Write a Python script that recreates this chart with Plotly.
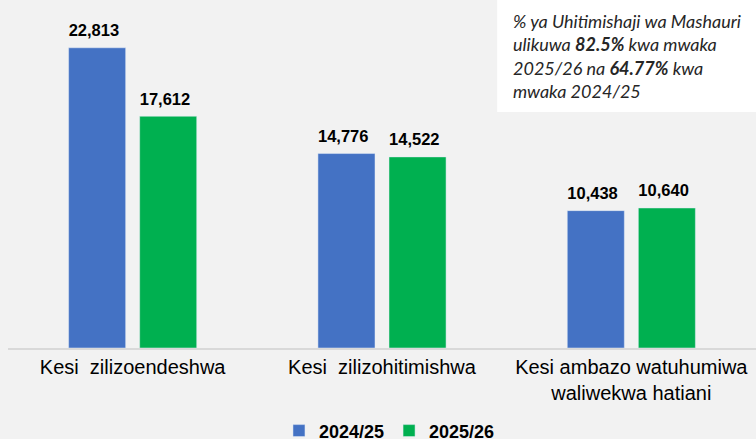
import plotly.graph_objects as go

categories = ["Kesi  zilizoendeshwa", "Kesi  zilizohitimishwa", "Kesi ambazo watuhumiwa<br>waliwekwa hatiani"]
series_names = ["2024/25", "2025/26"]
values_2024 = [22813, 14776, 10438]
values_2025 = [17612, 14522, 10640]
colors = ["#4472C4", "#00B050"]

note_text = ("% ya Uhitimishaji wa Mashauri<br>ulikuwa <b>82.5%</b> kwa mwaka<br>"
             "2025/26 na <b>64.77%</b> kwa<br>mwaka 2024/25")

fig = go.Figure()
for name, vals, col in zip(series_names, [values_2024, values_2025], colors):
    fig.add_trace(go.Bar(
        x=categories, y=vals, name="<b>" + name + "</b>", marker_color=col,
        texttemplate="<b>%{y:,}</b><sub><span style='font-size:27px'>&nbsp;</span></sub>",
        textposition="outside", cliponaxis=False,
        textfont=dict(family="Liberation Sans, Arial", size=19, color="#000000"),
    ))

fig.update_layout(
    width=756, height=439,
    margin=dict(l=8, r=0, t=19, b=91, autoexpand=False),
    paper_bgcolor="#F2F2F2", plot_bgcolor="#F2F2F2",
    barmode="group", bargap=0.43, bargroupgap=0.197,
    showlegend=True,
    legend=dict(orientation="h", x=0.51, xanchor="center", y=-0.252, yanchor="middle",
                font=dict(family="Liberation Sans, Arial", size=18, color="#000000"),
                bgcolor="rgba(0,0,0,0)", itemwidth=30, traceorder="normal"),
    xaxis=dict(showline=True, linecolor="#D9D9D9", linewidth=2, ticks="", automargin=False,
               tickfont=dict(family="Liberation Sans, Arial", size=20, color="#000000")),
    yaxis=dict(range=[0, 25000], visible=False, showgrid=False, automargin=False),
    shapes=[dict(type="rect", xref="paper", yref="paper", x0=0.654, x1=1.0, y0=0.717, y1=1.06,
                 fillcolor="#FFFFFF", line=dict(width=0), layer="below")],
    annotations=[dict(text=note_text, xref="paper", yref="paper", x=0.673, y=1.032,
                      xanchor="left", yanchor="top", align="left", showarrow=False,
                      font=dict(family="Lato", size=18, color="#262626", style="italic"))],
)

fig.write_html("out.html", config={"displayModeBar": False},
               post_script="document.body.style.margin='0px';")
